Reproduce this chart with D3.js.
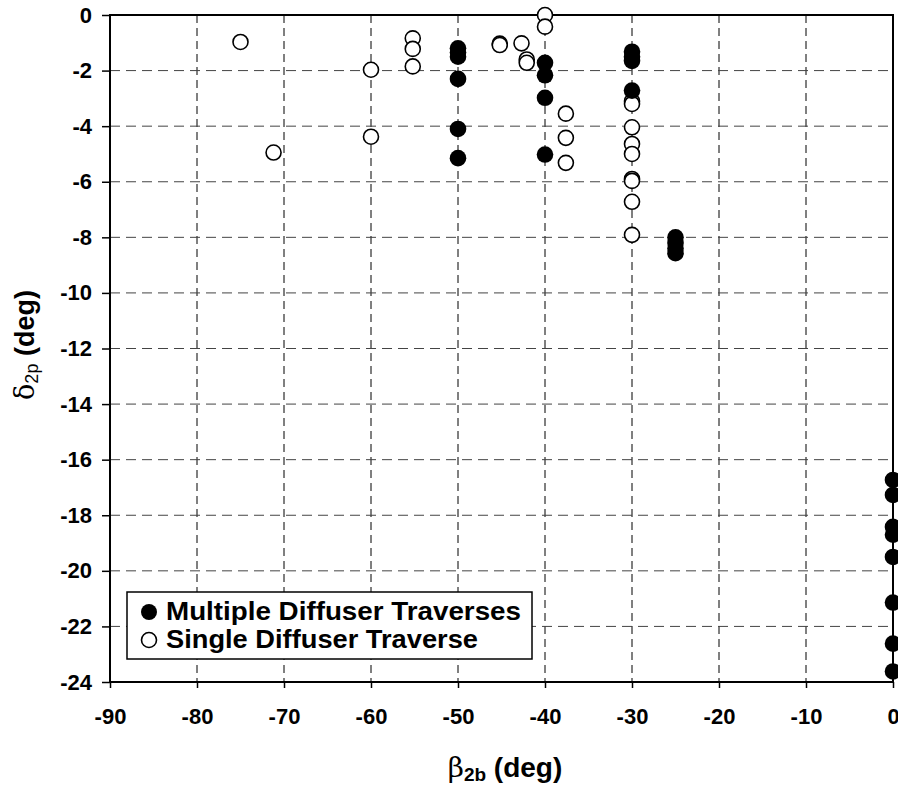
<!DOCTYPE html>
<html>
<head>
<meta charset="utf-8">
<script src="https://cdn.jsdelivr.net/npm/d3@7"></script>
<style>
  body { margin: 0; background: #fff; }
  svg { display: block; font-family: Arial, "Liberation Sans", sans-serif; }
</style>
</head>
<body>
<svg id="chart" width="898" height="790"></svg>
<script>
// Multiple diffuser traverses (filled markers)
const multipleBeta  = [-50, -50, -50, -50, -50, -50, -40, -40, -40, -40,
                       -30, -30, -30, -30, -25, -25, -25, -25,
                       0, 0, 0, 0, 0, 0, 0, 0];
const multipleDelta = [-1.2, -1.35, -1.5, -2.3, -4.1, -5.15, -1.72, -2.17, -2.98, -5.02,
                       -1.32, -1.5, -1.65, -2.72, -8.0, -8.2, -8.4, -8.57,
                       -16.73, -17.27, -18.42, -18.7, -19.5, -21.14, -22.62, -23.62];

// Single diffuser traverse (open markers)
const singleBeta  = [-75, -71.2, -60, -60, -55.2, -55.2, -55.2, -45.2, -45.2, -42.7, -42.1, -42.1,
                     -40, -40, -37.6, -37.6, -37.6,
                     -30, -30, -30, -30, -30, -30, -30, -30, -30];
const singleDelta = [-0.97, -4.95, -1.97, -4.38, -0.84, -1.22, -1.85, -1.03, -1.08, -1.02, -1.6, -1.72,
                     0, -0.42, -3.55, -4.42, -5.32,
                     -3.1, -3.2, -4.04, -4.64, -5.0, -5.9, -5.97, -6.72, -7.91];

const xTicks = [-90, -80, -70, -60, -50, -40, -30, -20, -10, 0];
const yTicks = [0, -2, -4, -6, -8, -10, -12, -14, -16, -18, -20, -22, -24];

const legendLabels = ["Multiple Diffuser Traverses", "Single Diffuser Traverse"];

const svg = d3.select("#chart");
const m = { left: 110, right: 893, top: 15, bottom: 682 };

const x = d3.scaleLinear().domain([-90, 0]).range([m.left, m.right]);
const y = d3.scaleLinear().domain([-24, 0]).range([m.bottom, m.top]);

// grid
const grid = svg.append("g");
grid.selectAll("line.v").data(xTicks.filter(d => d !== -90 && d !== 0)).enter()
  .append("line").attr("class", "v")
  .attr("x1", d => x(d)).attr("x2", d => x(d))
  .attr("y1", m.top).attr("y2", m.bottom)
  .attr("stroke", "#000").attr("stroke-width", 1)
  .attr("stroke-dasharray", "8,5");
grid.selectAll("line.h").data(yTicks.filter(d => d !== 0 && d !== -24)).enter()
  .append("line").attr("class", "h")
  .attr("x1", m.left).attr("x2", m.right)
  .attr("y1", d => y(d)).attr("y2", d => y(d))
  .attr("stroke", "#444").attr("stroke-width", 1)
  .attr("stroke-dasharray", "10,6");

// frame
svg.append("rect")
  .attr("x", m.left).attr("y", m.top)
  .attr("width", m.right - m.left).attr("height", m.bottom - m.top)
  .attr("fill", "none").attr("stroke", "#000").attr("stroke-width", 2);

// axes
const fmt = d => String(d);
const xAxis = d3.axisBottom(x).tickValues(xTicks).tickSize(6).tickPadding(20).tickFormat(fmt);
const yAxis = d3.axisLeft(y).tickValues(yTicks).tickSize(8).tickPadding(10).tickFormat(fmt);

const gx = svg.append("g").attr("transform", `translate(0,${m.bottom})`).call(xAxis);
const gy = svg.append("g").attr("transform", `translate(${m.left},0)`).call(yAxis);
[gx, gy].forEach(g => {
  g.select(".domain").remove();
  g.selectAll(".tick line").attr("stroke", "#000").attr("stroke-width", 1.5);
  g.selectAll(".tick text")
    .attr("fill", "#000")
    .style("font-size", "22px")
    .style("font-weight", "bold")
    .style("font-family", "Arial, 'Liberation Sans', sans-serif");
});

// markers
const pts = svg.append("g");
pts.selectAll("circle.single").data(singleBeta.map((b, i) => [b, singleDelta[i]])).enter()
  .append("circle").attr("class", "single")
  .attr("cx", d => x(d[0])).attr("cy", d => y(d[1]))
  .attr("r", 7.5)
  .attr("fill", "#fff").attr("stroke", "#000").attr("stroke-width", 1.6);
pts.selectAll("circle.multi").data(multipleBeta.map((b, i) => [b, multipleDelta[i]])).enter()
  .append("circle").attr("class", "multi")
  .attr("cx", d => x(d[0])).attr("cy", d => y(d[1]))
  .attr("r", 8.3)
  .attr("fill", "#000");

// legend
const lg = svg.append("g").attr("transform", "translate(127,592)");
lg.append("rect").attr("width", 405).attr("height", 67)
  .attr("fill", "#fff").attr("stroke", "#000").attr("stroke-width", 1.5);
lg.append("circle").attr("cx", 22).attr("cy", 20).attr("r", 8).attr("fill", "#000");
lg.append("circle").attr("cx", 22).attr("cy", 48).attr("r", 7.5)
  .attr("fill", "#fff").attr("stroke", "#000").attr("stroke-width", 1.6);
lg.selectAll("text").data(legendLabels).enter().append("text")
  .attr("x", 39).attr("y", (d, i) => 28 + i * 28)
  .style("font-size", "26px").style("font-weight", "bold")
  .attr("textLength", (d, i) => i === 0 ? 355 : 312)
  .attr("lengthAdjust", "spacingAndGlyphs")
  .text(d => d);

// axis titles
const xt = svg.append("text")
  .attr("x", 505).attr("y", 777)
  .attr("text-anchor", "middle")
  .style("font-size", "28px").style("font-weight", "bold");
xt.append("tspan").style("font-weight", "normal").style("font-family", "'DejaVu Serif', serif").text("β");
xt.append("tspan").attr("dy", 4).style("font-size", "19px").text("2b");
xt.append("tspan").attr("dy", -4).text(" (deg)");

const yt = svg.append("text")
  .attr("transform", "translate(34,345) rotate(-90)")
  .attr("text-anchor", "middle")
  .style("font-size", "27px").style("font-weight", "bold");
yt.append("tspan").style("font-weight", "normal").style("font-family", "'DejaVu Serif', serif").text("δ");
yt.append("tspan").attr("dy", 4).style("font-size", "18px").style("font-weight", "normal").text("2p");
yt.append("tspan").attr("dy", -4).text(" (deg)");
</script>
</body>
</html>
